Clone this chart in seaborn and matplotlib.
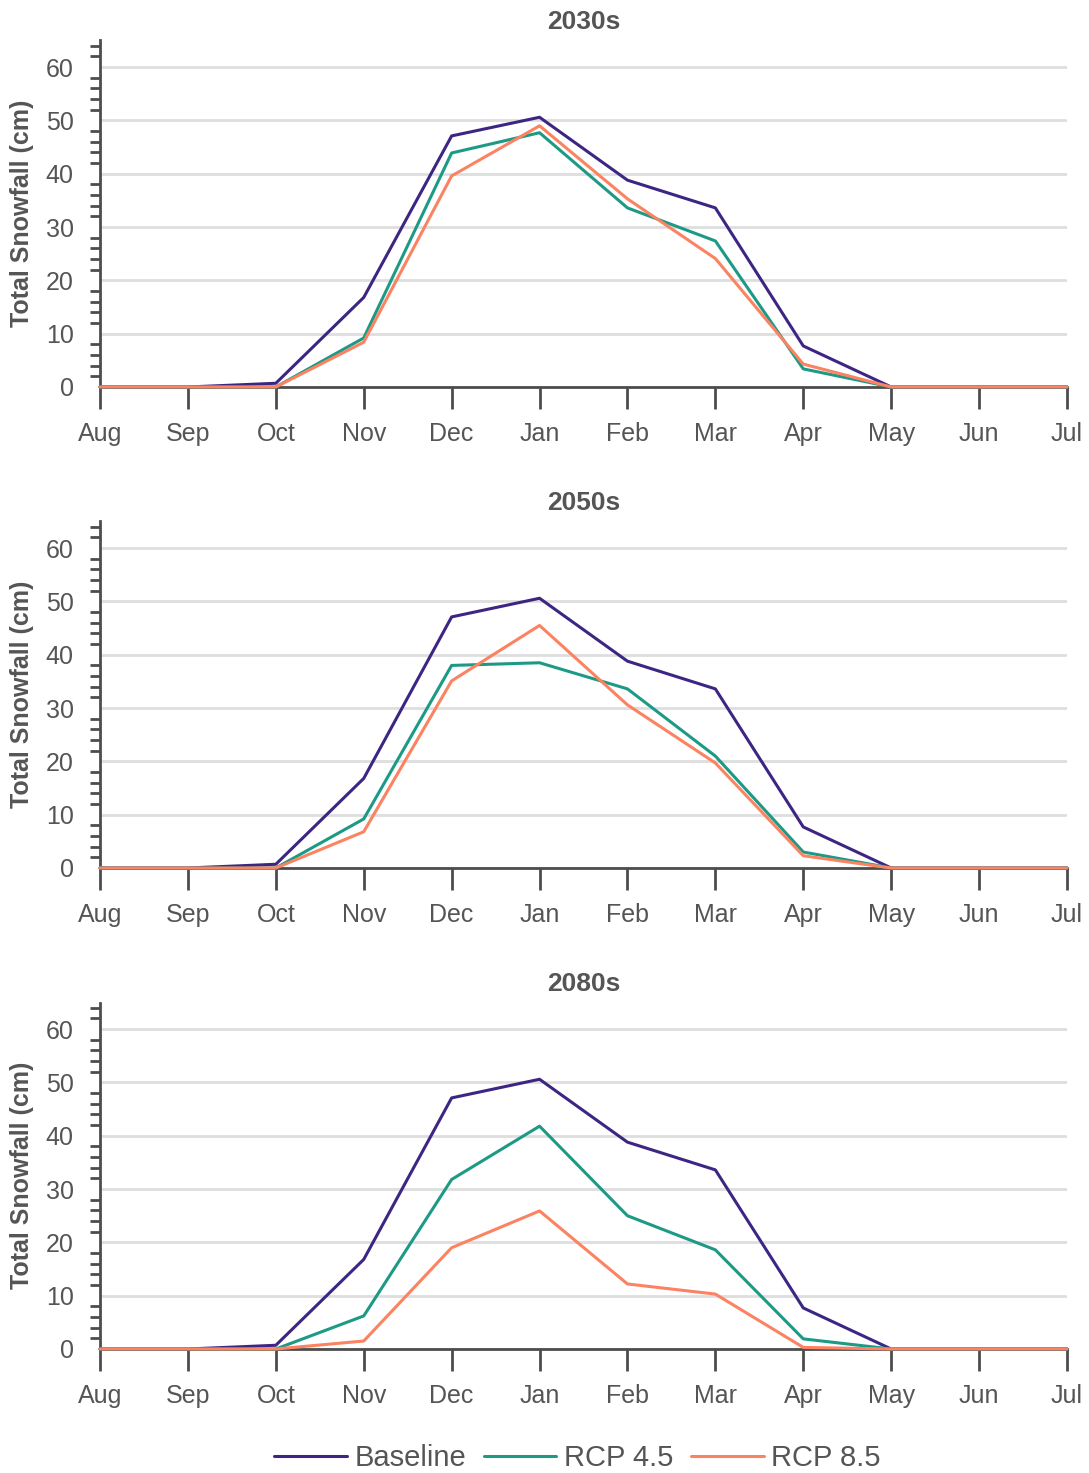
import pandas as pd
import numpy as np
import matplotlib.pyplot as plt
import seaborn as sns
from matplotlib.ticker import MultipleLocator

# === Data ===
months = ["Aug", "Sep", "Oct", "Nov", "Dec", "Jan", "Feb", "Mar", "Apr", "May", "Jun", "Jul"]
periods = ["2030s", "2050s", "2080s"]
scenarios = ["Baseline", "RCP 4.5", "RCP 8.5"]

baseline = [0, 0, 0.7, 16.8, 47.1, 50.6, 38.8, 33.6, 7.7, 0, 0, 0]

rcp45_2030s = [0, 0, 0, 9.2, 43.9, 47.7, 33.6, 27.4, 3.4, 0, 0, 0]
rcp85_2030s = [0, 0, 0, 8.4, 39.6, 49.0, 35.3, 24.1, 4.3, 0, 0, 0]

rcp45_2050s = [0, 0, 0, 9.2, 38.0, 38.5, 33.6, 21.0, 3.0, 0, 0, 0]
rcp85_2050s = [0, 0, 0, 6.8, 35.1, 45.5, 30.6, 19.7, 2.3, 0, 0, 0]

rcp45_2080s = [0, 0, 0, 6.2, 31.8, 41.8, 25.0, 18.6, 1.9, 0, 0, 0]
rcp85_2080s = [0, 0, 0, 1.5, 19.0, 25.9, 12.2, 10.3, 0.3, 0, 0, 0]

series = {
    "2030s": [baseline, rcp45_2030s, rcp85_2030s],
    "2050s": [baseline, rcp45_2050s, rcp85_2050s],
    "2080s": [baseline, rcp45_2080s, rcp85_2080s],
}

colors = {"Baseline": "#3d2683", "RCP 4.5": "#1d9a85", "RCP 8.5": "#fb8362"}

# === Build long-form table ===
rows = []
for period in periods:
    for scen, vals in zip(scenarios, series[period]):
        for i, v in enumerate(vals):
            rows.append({"period": period, "scenario": scen, "month_idx": i, "snow": v})
df = pd.DataFrame(rows)

# === Style ===
sns.set_style("white")
plt.rcParams["font.family"] = ["Liberation Sans", "DejaVu Sans"]
text_gray = "#555555"
spine_gray = "#4d4d4d"

fig = plt.figure(figsize=(10.89, 14.73), dpi=100)

left, width = 100 / 1089, 967 / 1089
height = 346.5 / 1473
bottoms = [1 - 387 / 1473, 1 - 868 / 1473, 1 - 1349 / 1473]

for period, b in zip(periods, bottoms):
    ax = fig.add_axes([left, b, width, height])
    sub = df[df["period"] == period]
    sns.lineplot(data=sub, x="month_idx", y="snow", hue="scenario",
                 hue_order=scenarios, palette=colors, linewidth=2.2,
                 ax=ax, legend=False, clip_on=False, zorder=5)

    ax.set_xlim(0, 11)
    ax.set_ylim(0, 65)
    ax.set_xticks(range(len(months)))
    ax.set_xticklabels(months)
    ax.yaxis.set_major_locator(MultipleLocator(10))
    ax.yaxis.set_minor_locator(MultipleLocator(2))
    ax.set_yticks([0, 10, 20, 30, 40, 50, 60])

    ax.grid(axis="y", which="major", color="#dedede", linewidth=2, zorder=0)
    ax.set_axisbelow(True)

    for side in ["top", "right"]:
        ax.spines[side].set_visible(False)
    for side in ["left", "bottom"]:
        ax.spines[side].set_color(spine_gray)
        ax.spines[side].set_linewidth(2)
        ax.spines[side].set_zorder(3)

    ax.tick_params(axis="y", which="major", direction="out", length=15, width=2,
                   color=spine_gray, labelsize=18, labelcolor=text_gray, pad=4)
    ax.tick_params(axis="y", which="minor", direction="out", length=7, width=2,
                   color=spine_gray, left=True)
    ax.tick_params(axis="x", which="major", direction="out", length=16, width=2,
                   color=spine_gray, labelsize=18, labelcolor=text_gray, pad=9,
                   bottom=True)

    ax.set_xlabel("")
    ax.set_ylabel("Total Snowfall (cm)", fontsize=18, fontweight="bold",
                  color=text_gray, labelpad=8)
    ax.set_title(period, fontsize=19, fontweight="bold", color=text_gray, pad=8)

# === Legend ===
handles = [plt.Line2D([], [], color=colors[s], linewidth=2.2) for s in scenarios]
fig.legend(handles, scenarios, loc="lower center", bbox_to_anchor=(0.53, -0.017),
           ncol=3, frameon=False, fontsize=21, handlelength=2.5, handletextpad=0.25,
           columnspacing=0.6, labelcolor=text_gray)

fig.savefig("out.png", dpi=100)
